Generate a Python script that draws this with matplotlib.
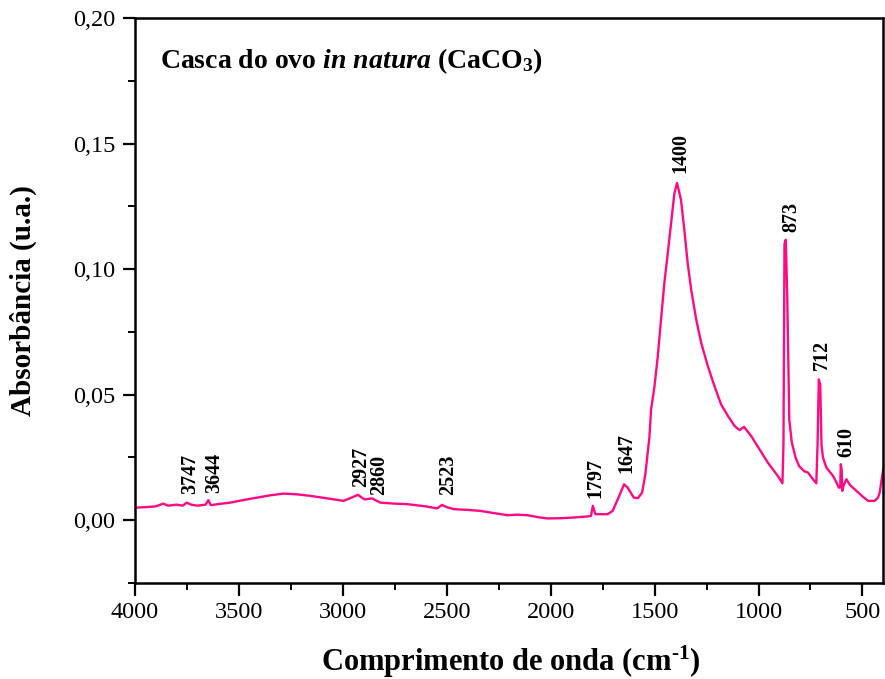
import matplotlib
matplotlib.use("Agg")
import matplotlib.pyplot as plt
from matplotlib.ticker import MultipleLocator, FuncFormatter

plt.rcParams['font.family'] = ['Liberation Serif', 'DejaVu Serif']
plt.rcParams['mathtext.fontset'] = 'custom'
plt.rcParams['mathtext.rm'] = 'Liberation Serif:bold'
plt.rcParams['mathtext.bf'] = 'Liberation Serif:bold'
plt.rcParams['mathtext.it'] = 'Liberation Serif:italic:bold'

# Spectrum (wavenumber cm-1, absorbance)
wavenumber = [4000, 3950, 3900, 3864, 3840, 3800, 3770, 3751, 3730, 3700, 3660, 3647, 3635,
              3600, 3542, 3480, 3413, 3350, 3285, 3220, 3156, 3100, 3028, 2996, 2964, 2927,
              2900, 2891, 2860, 2819, 2750, 2690, 2600, 2546, 2523, 2500, 2466, 2400, 2337,
              2270, 2208, 2160, 2112, 2060, 2015, 1951, 1887, 1820, 1806, 1797, 1785, 1726,
              1702, 1670, 1647, 1630, 1600, 1580, 1560, 1545, 1525, 1517, 1501, 1485, 1469,
              1453, 1437, 1421, 1405, 1392, 1373, 1357, 1341, 1324, 1300, 1276, 1244, 1212,
              1180, 1147, 1115, 1091, 1070, 1035, 995, 955, 907, 885, 880, 875, 869, 862,
              852, 840, 822, 805, 780, 762, 740, 722, 716, 710, 703, 697, 690, 674, 641,
              625, 614, 607, 604, 600, 597, 590, 577, 560, 537, 500, 473, 441, 425, 417, 400]
absorbance = [0.0050, 0.0052, 0.0055, 0.0066, 0.0058, 0.0062, 0.0058, 0.0070, 0.0062, 0.0058,
              0.0062, 0.0080, 0.0060, 0.0064, 0.0070, 0.0080, 0.0090, 0.0099, 0.0106, 0.0103,
              0.0097, 0.0090, 0.0081, 0.0077, 0.0088, 0.0101, 0.0085, 0.0083, 0.0087, 0.0070,
              0.0066, 0.0064, 0.0055, 0.0047, 0.0061, 0.0052, 0.0044, 0.0041, 0.0037, 0.0028,
              0.0020, 0.0022, 0.0020, 0.0012, 0.0007, 0.0008, 0.0011, 0.0015, 0.0017, 0.0057,
              0.0024, 0.0024, 0.0037, 0.0097, 0.0143, 0.0130, 0.0090, 0.0088, 0.0110, 0.0180,
              0.0330, 0.0440, 0.0530, 0.0650, 0.0800, 0.0945, 0.1060, 0.1180, 0.1300, 0.1343,
              0.1276, 0.1157, 0.1025, 0.0918, 0.0800, 0.0707, 0.0614, 0.0534, 0.0461, 0.0415,
              0.0375, 0.0359, 0.0372, 0.0335, 0.0282, 0.0229, 0.0176, 0.0147, 0.0300, 0.1100,
              0.1117, 0.0900, 0.0400, 0.0310, 0.0250, 0.0216, 0.0195, 0.0190, 0.0165, 0.0147,
              0.0300, 0.0561, 0.0540, 0.0300, 0.0250, 0.0210, 0.0176, 0.0150, 0.0130, 0.0130,
              0.0223, 0.0200, 0.0117, 0.0140, 0.0163, 0.0140, 0.0123, 0.0095, 0.0077, 0.0077,
              0.0090, 0.0110, 0.0203]

# Peak labels and their anchor points (wavenumber, absorbance)
peak_labels = ['3747', '3644', '2927', '2860', '2523', '1797', '1647', '1400', '873', '712', '610']
label_x = [3732, 3617, 2912, 2826, 2494, 1786, 1638, 1377, 844, 694, 579]
label_y = [0.0103, 0.0107, 0.0134, 0.0101, 0.0101, 0.0090, 0.0187, 0.1383, 0.1146, 0.0600, 0.0253]

x_ticks = [4000, 3500, 3000, 2500, 2000, 1500, 1000, 500]
y_ticks = [0.00, 0.05, 0.10, 0.15, 0.20]

fig = plt.figure(figsize=(8.85, 6.79), dpi=100)
ax = fig.add_axes([0.1525, 0.1414, 0.8455, 0.8321])

ax.plot(wavenumber, absorbance, color='#ff0a84', lw=1.7)

ax.set_xlim(4000, 400)
ax.set_ylim(-0.025, 0.20)
ax.set_xticks(x_ticks)
ax.set_yticks(y_ticks)
ax.xaxis.set_minor_locator(MultipleLocator(250))
ax.yaxis.set_minor_locator(MultipleLocator(0.025))
ax.yaxis.set_major_formatter(FuncFormatter(lambda v, p: f"{v:.2f}".replace('.', ',')))

ax.tick_params(which='major', direction='out', length=9, width=1.6, labelsize=17.5, pad=5)
ax.tick_params(which='minor', direction='out', length=5, width=1.4)
for s in ax.spines.values():
    s.set_linewidth(1.8)

for lab, lx, ly in zip(peak_labels, label_x, label_y):
    ax.text(lx, ly, lab, rotation=90, ha='center', va='bottom', fontsize=14.5,
            fontweight='bold')

ax.text(0.033, 0.912, r"Casca do ovo $\mathit{in\ natura}$ (CaCO$_3$)",
        transform=ax.transAxes, fontsize=20, fontweight='bold', ha='left', va='baseline')

ax.set_xlabel(r"Comprimento de onda (cm$^{\text{-1}}$)", fontsize=22, fontweight='bold')
ax.set_ylabel(r"Absorbância (u.a.)", fontsize=21, fontweight='bold')
ax.xaxis.set_label_coords(0.502, -0.107)
ax.yaxis.set_label_coords(-0.131, 0.5)

fig.savefig('out.png', dpi=100)
